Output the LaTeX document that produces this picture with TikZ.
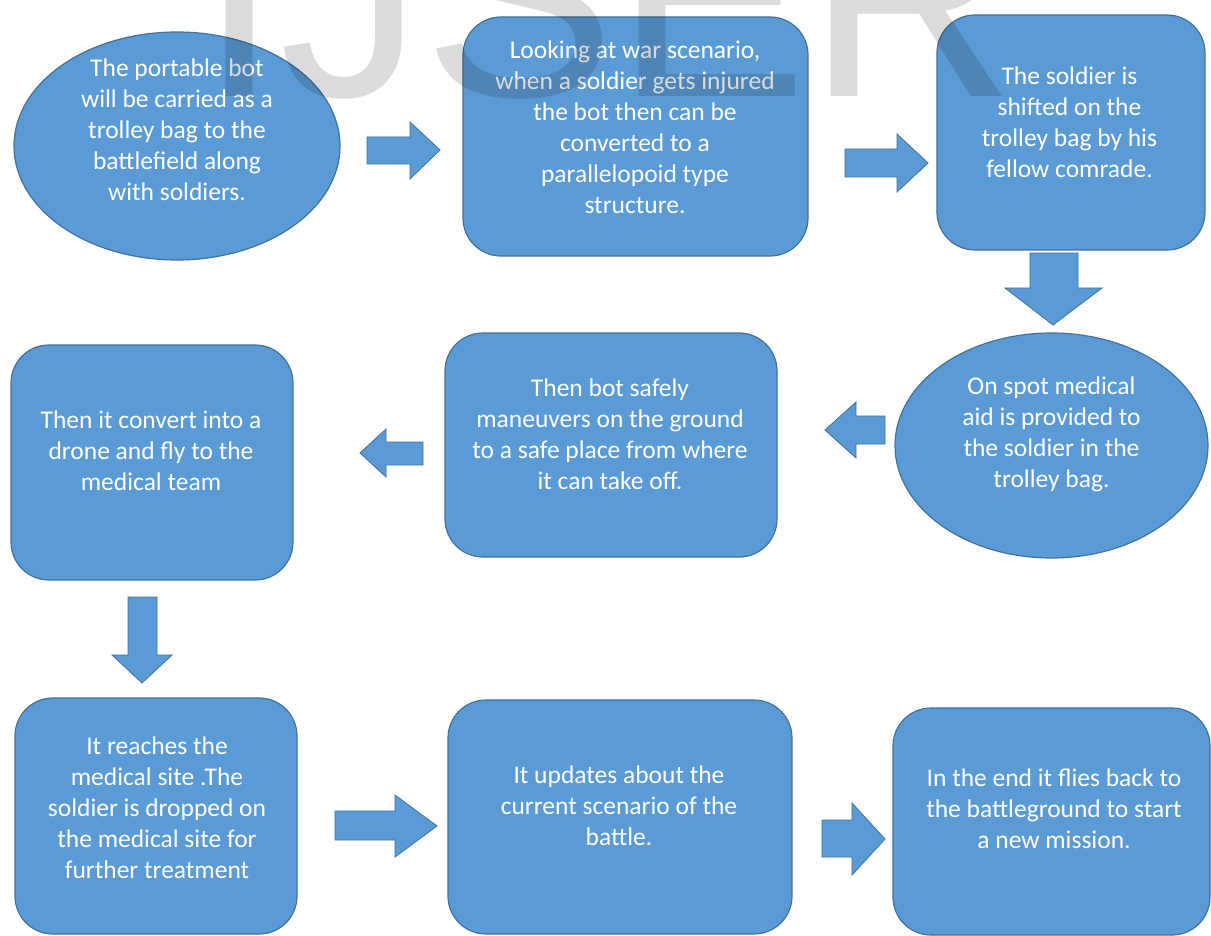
\documentclass[tikz,border=0pt]{standalone}
\usepackage{fontspec}
\usetikzlibrary{shapes.geometric}
\newfontfamily\calib{Carlito}
\newfontfamily\wmfont{Liberation Sans}
\definecolor{boxblue}{HTML}{5B9BD5}
\definecolor{edgeblue}{HTML}{41719C}
\tikzset{
  blob/.style={draw=edgeblue, fill=boxblue, line width=1.2pt, inner sep=0pt},
  rbox/.style={blob, rectangle, rounded corners=38pt},
  oval/.style={blob, ellipse},
  txt/.style={text=white, align=center, inner sep=0pt, font=\calib\fontsize{25.5}{31}\selectfont},
  barrow/.style={fill=boxblue, draw=edgeblue, line width=0.8pt, line join=miter}
}
\begin{document}
\begin{tikzpicture}[x=1pt, y=-1pt]
\useasboundingbox (0,0) rectangle (1211,936);
\clip (0,0) rectangle (1211,936);
\fill[white] (0,0) rectangle (1211,936);

% shapes
\node[oval, minimum width=326pt, minimum height=228pt] (e1) at (177,146) {};
\node[rbox, minimum width=345pt, minimum height=239pt] (b2) at (635.5,136.5) {};
\node[rbox, minimum width=268pt, minimum height=235pt] (b3) at (1071,132.5) {};
\node[oval, minimum width=313pt, minimum height=225pt] (e4) at (1051.5,445.5) {};
\node[rbox, minimum width=332pt, minimum height=224pt] (b5) at (611,445) {};
\node[rbox, minimum width=282pt, minimum height=235pt] (b6) at (152,462.5) {};
\node[rbox, minimum width=282pt, minimum height=236pt] (b7) at (156,816) {};
\node[rbox, minimum width=344pt, minimum height=234pt] (b8) at (620,817) {};
\node[rbox, minimum width=317pt, minimum height=227pt] (b9) at (1051.5,821.5) {};

% texts
\node[txt] (t1) at (177,130) {The portable bot\\will be carried as a\\trolley bag to the\\battlefield along\\with soldiers.};
\node[txt] (t2) at (635,127) {Looking at war scenario,\\when a soldier gets injured\\the bot then can be\\converted to a\\parallelopoid type\\structure.};
\node[txt] (t3) at (1069.5,122) {The soldier is\\shifted on the\\trolley bag by his\\fellow comrade.};
\node[txt] (t4) at (1051.5,434) {On spot medical\\aid is provided to\\the soldier in the\\trolley bag.};
\node[txt] (t5) at (610,434) {Then bot safely\\maneuvers on the ground\\to a safe place from where\\it can take off.};
\node[txt] (t6) at (151,451) {Then it convert into a\\drone and fly to the\\medical team};
\node[txt] (t7) at (157,808) {It reaches the\\medical site .The\\soldier is dropped on\\the medical site for\\further treatment};
\node[txt] (t8) at (619,806) {It updates about the\\current scenario of the\\battle.};
\node[txt] (t9) at (1054,809) {In the end it flies back to\\the battleground to start\\a new mission.};

% block arrows
\draw[barrow] (367,137) -- (410,137) -- (410,122) -- (440,150) -- (410,179) -- (410,164) -- (367,164) -- cycle;
\draw[barrow] (845,149) -- (897,149) -- (897,134) -- (928,163) -- (897,192) -- (897,177) -- (845,177) -- cycle;
\draw[barrow] (1030,253) -- (1078,253) -- (1078,288) -- (1102,288) -- (1053,325) -- (1005,288) -- (1030,288) -- cycle;
\draw[barrow] (885,416) -- (856,416) -- (856,402) -- (825,430) -- (856,458) -- (856,444) -- (885,444) -- cycle;
\draw[barrow] (423,442) -- (386,442) -- (386,429) -- (360,453) -- (386,477) -- (386,465) -- (423,465) -- cycle;
\draw[barrow] (128,597) -- (157,597) -- (157,655) -- (172,655) -- (142,683) -- (112,655) -- (128,655) -- cycle;
\draw[barrow] (335,811) -- (395,811) -- (395,795) -- (437,826) -- (395,857) -- (395,840) -- (335,840) -- cycle;
\draw[barrow] (822,820) -- (852,820) -- (852,803) -- (885,839) -- (852,875) -- (852,857) -- (822,857) -- cycle;

% watermark
\node[anchor=base west, inner sep=0pt, text=black, text opacity=0.14, font=\wmfont\fontsize{288}{288}\selectfont] (wm) at (199,97) {IJSER};
\end{tikzpicture}
\end{document}
